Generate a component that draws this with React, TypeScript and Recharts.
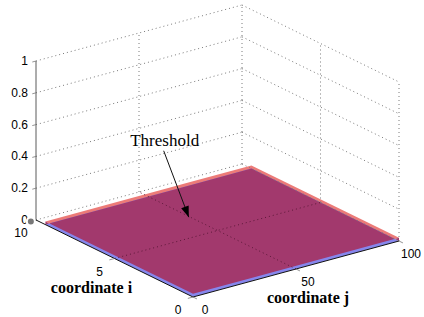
import React from "react";
import { ComposedChart, Line, Area, Scatter, XAxis, YAxis } from "recharts";

const W = 424;
const H = 317;

// axis ticks
const iTicks = [0, 5, 10];
const jTicks = [0, 50, 100];
const zTicks = [0, 0.2, 0.4, 0.6, 0.8, 1];
const iTickLabels = ["0", "5", "10"];
const jTickLabels = ["0", "50", "100"];
const zTickLabels = ["0", "0.2", "0.4", "0.6", "0.8", "1"];

// the two flat sheets
const sheetI = [0, 9.4];
const sheetJ = [0, 100];
const signalLevel = 0; // blue sheet
const thresholdLevel = 0.02; // red sheet

// annotation: label anchor and arrow tip, in (i, j, z)
const labelPoint = [8.1, 47.5, 0.36];
const tipPoint = [6.5, 47.5, 0.02];

// view: where i=0, j=0, z=0 lands and the step for one unit of each axis
const origin = { x: 193, y: 297 };
const perI = { x: -15.7, y: -7.7 };
const perJ = { x: 2.06, y: -0.56 };
const perZ = { x: 0, y: -159 };

type Pt = { sx: number; sy: number };

const project = (i: number, j: number, z: number): Pt => ({
  sx: origin.x + i * perI.x + j * perJ.x + z * perZ.x,
  sy: origin.y + i * perI.y + j * perJ.y + z * perZ.y,
});

const seg = (a: number[], b: number[]) => [project(a[0], a[1], a[2]), project(b[0], b[1], b[2])];

// y of a polyline at a given x
function yAt(poly: Pt[], x: number) {
  for (let k = 0; k < poly.length - 1; k++) {
    const a = poly[k];
    const b = poly[k + 1];
    const lo = Math.min(a.sx, b.sx);
    const hi = Math.max(a.sx, b.sx);
    if (x >= lo - 1e-9 && x <= hi + 1e-9) {
      if (hi - lo < 1e-9) return a.sy;
      return a.sy + ((x - a.sx) / (b.sx - a.sx)) * (b.sy - a.sy);
    }
  }
  return poly[poly.length - 1].sy;
}

const farEdge = (z: number) => [
  project(sheetI[1], sheetJ[0], z),
  project(sheetI[1], sheetJ[1], z),
  project(sheetI[0], sheetJ[1], z),
];
const nearEdge = (z: number) => [
  project(sheetI[1], sheetJ[0], z),
  project(sheetI[0], sheetJ[0], z),
  project(sheetI[0], sheetJ[1], z),
];

function band(top: Pt[], bottom: Pt[]) {
  const xs = Array.from(new Set([...top, ...bottom].map((p) => p.sx))).sort((a, b) => a - b);
  return xs.map((x) => ({ sx: x, band: [yAt(top, x), yAt(bottom, x)] }));
}

const redSheet = band(farEdge(thresholdLevel), nearEdge(thresholdLevel));
const blueSheet = band(farEdge(signalLevel), nearEdge(signalLevel));
const overlapSheet = band(farEdge(signalLevel), nearEdge(thresholdLevel));

// grid lines on the back walls and floor
const wallLines: Pt[][] = [];
zTicks.forEach((z) => {
  wallLines.push(seg([10, 0, z], [10, 100, z]));
  wallLines.push(seg([10, 100, z], [0, 100, z]));
});
[50, 100].forEach((j) => wallLines.push(seg([10, j, 0], [10, j, 1])));
[5, 0].forEach((i) => wallLines.push(seg([i, 100, 0], [i, 100, 1])));
const floorLines: Pt[][] = [seg([5, 0, 0], [5, 100, 0]), seg([0, 50, 0], [10, 50, 0])];

const axisLines: Pt[][] = [seg([0, 0, 0], [10, 0, 0]), seg([0, 0, 0], [0, 100, 0])];
const zAxisLine = seg([10, 0, 0], [10, 0, 1]);
const tickLines: Pt[][] = [
  ...zTicks.map((z) => seg([10, 0, z], [10, -1.8, z])),
  ...iTicks.map((i) => seg([i, 0, 0], [i, -2.5, 0])),
  ...jTicks.map((j) => seg([0, j, 0], [-0.25, j, 0])),
];

const zLabels = zTicks.map((z, k) => ({ ...project(10, 0, z), label: zTickLabels[k] }));
const iLabels = iTicks.map((i, k) => ({ ...project(i, 0, 0), label: iTickLabels[k] }));
const jLabels = jTicks.map((j, k) => ({ ...project(0, j, 0), label: jTickLabels[k] }));
const iTitle = [{ ...project(5, 0, 0), label: "coordinate i" }];
const jTitle = [{ ...project(0, 50, 0), label: "coordinate j" }];

const arrowStart = project(labelPoint[0], labelPoint[1], labelPoint[2]);
const arrowTip = project(tipPoint[0], tipPoint[1], tipPoint[2]);
const arrowLine = [arrowStart, arrowTip];
const arrowAngle = Math.atan2(arrowTip.sy - arrowStart.sy, arrowTip.sx - arrowStart.sx);
const noteLabel = [{ ...arrowStart, label: "Threshold" }];

const textShape =
  (dx: number, dy: number, anchor: string, font: string, size: number, weight = "normal") =>
  (props: any) => (
    <text
      x={props.cx + dx}
      y={props.cy + dy}
      textAnchor={anchor}
      dominantBaseline="central"
      fontFamily={font}
      fontSize={size}
      fontWeight={weight}
      fill="#000"
    >
      {props.payload.label}
    </text>
  );

const headShape = (props: any) => {
  const len = 11;
  const half = 4;
  const c = Math.cos(arrowAngle);
  const s = Math.sin(arrowAngle);
  const bx = props.cx - len * c;
  const by = props.cy - len * s;
  const pts = [
    [props.cx, props.cy],
    [bx - half * s, by + half * c],
    [bx + half * s, by - half * c],
  ];
  return <polygon points={pts.map((p) => p.join(",")).join(" ")} fill="#000" />;
};

const sans = "'Liberation Sans', Arial, sans-serif";
const serif = "'Liberation Serif', 'Times New Roman', serif";

export default function App() {
  return (
    <div style={{ position: "absolute", left: 0, top: 0, width: W, height: H, background: "#fff" }}>
      <ComposedChart width={W} height={H} margin={{ top: 0, right: 0, bottom: 0, left: 0 }}>
        <XAxis type="number" dataKey="sx" domain={[0, W]} allowDataOverflow hide />
        <YAxis type="number" dataKey="sy" domain={[0, H]} allowDataOverflow reversed hide />

        {wallLines.map((d, k) => (
          <Line key={`w${k}`} data={d} dataKey="sy" stroke="#7a7a7a" strokeWidth={1} strokeDasharray="1 3" dot={false} isAnimationActive={false} />
        ))}

        <Area data={redSheet} dataKey="band" type="linear" fill="#ec7b78" fillOpacity={1} stroke="none" isAnimationActive={false} />
        <Area data={blueSheet} dataKey="band" type="linear" fill="#8686ec" fillOpacity={1} stroke="none" isAnimationActive={false} />
        <Area data={overlapSheet} dataKey="band" type="linear" fill="#a2396d" fillOpacity={1} stroke="none" isAnimationActive={false} />

        {floorLines.map((d, k) => (
          <Line key={`f${k}`} data={d} dataKey="sy" stroke="#5c1838" strokeWidth={1} strokeDasharray="1 3" dot={false} isAnimationActive={false} />
        ))}

        <Line data={zAxisLine} dataKey="sy" stroke="#5a5a5a" strokeWidth={1} dot={false} isAnimationActive={false} />
        {axisLines.map((d, k) => (
          <Line key={`a${k}`} data={d} dataKey="sy" stroke="#111" strokeWidth={1} dot={false} isAnimationActive={false} />
        ))}
        {tickLines.map((d, k) => (
          <Line key={`t${k}`} data={d} dataKey="sy" stroke="#777" strokeWidth={0.8} dot={false} isAnimationActive={false} />
        ))}

        <Scatter data={zLabels} shape={textShape(-8, 0, "end", sans, 12)} isAnimationActive={false} />
        <Scatter data={iLabels} shape={textShape(-15, 13, "middle", sans, 12)} isAnimationActive={false} />
        <Scatter data={jLabels} shape={textShape(12, 13, "middle", sans, 12)} isAnimationActive={false} />
        <Scatter data={iTitle} shape={textShape(-23, 29, "middle", serif, 16, "bold")} isAnimationActive={false} />
        <Scatter data={jTitle} shape={textShape(12, 28, "middle", serif, 16, "bold")} isAnimationActive={false} />

        <Line data={arrowLine} dataKey="sy" stroke="#111" strokeWidth={1} dot={false} isAnimationActive={false} />
        <Scatter data={[arrowTip]} shape={headShape} isAnimationActive={false} />
        <Scatter data={noteLabel} shape={textShape(1, -10, "middle", serif, 17)} isAnimationActive={false} />
      </ComposedChart>
    </div>
  );
}
